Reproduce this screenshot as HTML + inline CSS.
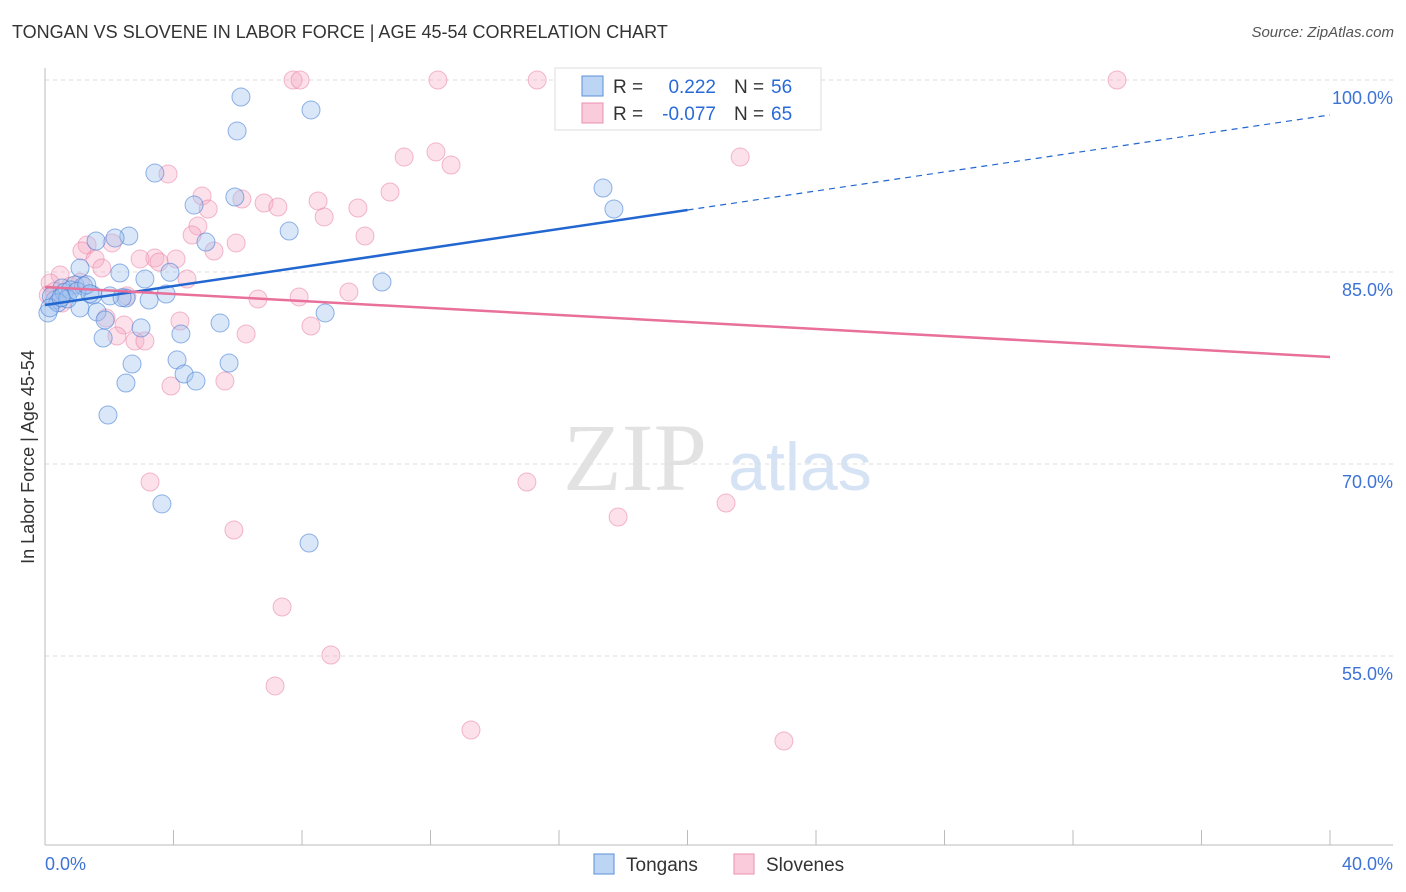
<!DOCTYPE html>
<html><head><meta charset="utf-8"><style>
body{margin:0;background:#fff;font-family:"Liberation Sans",sans-serif}
#wrap{position:relative;width:1406px;height:892px;overflow:hidden}
.t{position:absolute;white-space:nowrap}
</style></head><body>
<div id="wrap">
<div class="t" style="left:12px;top:22px;font-size:18px;color:#333">TONGAN VS SLOVENE IN LABOR FORCE | AGE 45-54 CORRELATION CHART</div>
<div class="t" style="right:12px;top:24px;font-size:15px;color:#555;font-style:italic">Source: ZipAtlas.com</div>
<svg id="plot" width="1406" height="892" style="position:absolute;left:0;top:0"></svg>
</div>
<script>
const yTicks=[100,85,70,55];
const xTickVals=[0,4,8,12,16,20,24,28,32,36,40];
const tonganX=[3.42,6.10,5.98,8.28,4.64,5.91,7.60,5.01,2.61,2.18,1.59,1.09,2.33,3.11,3.89,10.49,3.77,3.24,2.52,2.02,1.49,0.93,0.53,0.31,0.09,1.09,1.62,1.87,1.81,2.99,4.23,5.45,8.72,2.71,4.11,4.33,4.70,2.52,5.73,1.96,3.64,8.22,17.37,17.71,0.2,0.6,0.8,1.2,0.4,0.7,1.0,1.3,0.15,0.5,1.4,2.4];
const tonganY=[92.73,98.67,96.02,97.66,90.23,90.86,88.20,87.34,87.81,87.66,87.42,85.31,84.92,84.45,84.98,84.22,83.28,82.81,82.97,83.13,83.20,83.98,83.75,82.81,81.80,82.19,81.88,81.25,79.84,80.63,80.16,81.02,81.80,77.81,78.13,77.03,76.48,76.33,77.89,73.83,66.88,63.83,91.56,89.92,83.1,83.4,83.6,83.9,82.6,82.9,83.5,84.0,82.2,83.0,83.3,83.0];
const sloveneX=[7.72,7.94,12.23,15.32,33.37,11.18,12.17,12.64,21.64,3.83,4.89,5.08,6.13,6.82,7.25,8.50,8.69,9.74,10.74,9.96,4.76,4.58,5.95,5.26,4.08,3.42,3.55,2.96,4.42,2.09,1.31,1.15,1.56,1.77,0.47,0.16,0.53,6.63,7.91,9.46,2.55,1.90,2.46,4.20,2.24,2.80,3.11,6.26,8.28,5.60,3.92,3.27,5.88,7.38,8.90,7.16,13.26,15.00,17.84,21.20,23.00,0.3,0.8,1.1,0.1];
const sloveneY=[100,100,100,100,100,93.98,94.38,93.36,93.98,92.66,90.94,89.92,90.70,90.39,90.08,90.55,89.30,90.0,91.25,87.81,88.59,87.89,87.27,86.64,86.02,86.09,85.78,86.02,84.45,87.27,87.11,86.64,86.02,85.31,84.77,84.14,82.58,82.89,83.05,83.44,83.13,81.41,80.86,81.17,80.0,79.61,79.61,80.16,80.78,76.48,76.09,68.59,64.84,58.83,55.08,52.66,49.22,68.59,65.86,66.95,48.36,83.5,83.9,84.2,83.2];
const blueTrend=[82.42,97.27];
const pinkTrend=[83.83,78.36];

const NS="http://www.w3.org/2000/svg";
const svg=document.getElementById('plot');
const L=45,R=1330,B=845;
const xs=v=>L+(v/40)*(R-L);
const ys=v=>80+(100-v)*12.8;
function mk(tag,attrs){const e=document.createElementNS(NS,tag);for(const k in attrs)e.setAttribute(k,attrs[k]);svg.appendChild(e);return e;}

let wm=mk('text',{x:635,y:490,'font-size':96,'font-family':'Liberation Serif, serif',fill:'#e2e2e2','text-anchor':'middle'});wm.textContent='ZIP';


let wm2=mk('text',{x:800,y:490,'font-size':68,'font-family':'Liberation Sans, sans-serif',fill:'#d5e3f5','text-anchor':'middle'});wm2.textContent='atlas';



yTicks.forEach(v=>{
 const g=mk('line',{x1:L,x2:1393,y1:ys(v),y2:ys(v),stroke:'#ddd','stroke-dasharray':'4,4'});
 
 
 const t=mk('text',{x:1393,y:ys(v)+24,'font-size':18,fill:'#3d73d6','text-anchor':'end'});
 t.textContent=v.toFixed(1)+'%';
 
 
});
let ax=mk('line',{x1:L,x2:L,y1:68,y2:B,stroke:'#bbb'});


let bx=mk('line',{x1:L,x2:1393,y1:B,y2:B,stroke:'#bbb'});


xTickVals.forEach(v=>{
 const l=mk('line',{x1:xs(v),x2:xs(v),y1:830,y2:B,stroke:'#bbb'});
 
 
});
[[0,'start',45],[40,'end',1393]].forEach(([v,a,px])=>{
 const t=mk('text',{x:px,y:870,'font-size':18,fill:'#3d73d6','text-anchor':a});t.textContent=v.toFixed(1)+'%';
 
 
});
let yt=mk('text',{x:34,y:457,'font-size':18,fill:'#333','text-anchor':'middle',transform:'rotate(-90 34 457)'});yt.textContent='In Labor Force | Age 45-54';



sloveneX.forEach((x,i)=>{
 const c=mk('circle',{cx:xs(x),cy:ys(sloveneY[i]),r:9,fill:'rgba(246,170,195,0.35)',stroke:'rgba(232,120,160,0.5)','stroke-width':1});
 
 
});
tonganX.forEach((x,i)=>{
 const c=mk('circle',{cx:xs(x),cy:ys(tonganY[i]),r:9,fill:'rgba(160,195,240,0.4)',stroke:'rgba(60,120,210,0.55)','stroke-width':1});
 
 
});
const bAt=x=>blueTrend[0]+(blueTrend[1]-blueTrend[0])*x/40;
let t1=mk('line',{x1:xs(0),y1:ys(bAt(0)),x2:xs(20),y2:ys(bAt(20)),stroke:'#2266d0','stroke-width':2.5});


let t2=mk('line',{x1:xs(20),y1:ys(bAt(20)),x2:xs(40),y2:ys(bAt(40)),stroke:'#2266d0','stroke-width':1.2,'stroke-dasharray':'6,5'});


let t3=mk('line',{x1:xs(0),y1:ys(pinkTrend[0]),x2:xs(40),y2:ys(pinkTrend[1]),stroke:'#e8709a','stroke-width':2.5});



let lg=mk('rect',{x:555,y:68,width:266,height:62,fill:'#fff',stroke:'#ddd'});


[[0,'rgba(160,195,240,0.7)','#5b8fd8','0.222','56'],[1,'rgba(246,170,195,0.6)','#e890b0','-0.077','65']].forEach(([i,f,s,r,n])=>{
 const y=86+i*27;
 const sw=mk('rect',{x:582,y:y-10,width:21,height:20,fill:f,stroke:s});
 
 
 const a=mk('text',{x:613,y:y+7,'font-size':19,fill:'#333'});a.textContent='R =';
 
 
 const b=mk('text',{x:716,y:y+7,'font-size':19,fill:'#2a6ad8','text-anchor':'end'});b.textContent=r;
 
 
 const c=mk('text',{x:734,y:y+7,'font-size':19,fill:'#333'});c.textContent='N =';
 
 
 const d=mk('text',{x:771,y:y+7,'font-size':19,fill:'#2a6ad8'});d.textContent=n;
 
 
});
[[594,'rgba(160,195,240,0.7)','#5b8fd8','Tongans'],[734,'rgba(246,170,195,0.6)','#e890b0','Slovenes']].forEach(([x,f,s,l])=>{
 const r=mk('rect',{x:x,y:854,width:20,height:20,fill:f,stroke:s});
 
 
 const t=mk('text',{x:x+32,y:871,'font-size':19,fill:'#333'});t.textContent=l;
 
 
});
</script>
</body></html>
